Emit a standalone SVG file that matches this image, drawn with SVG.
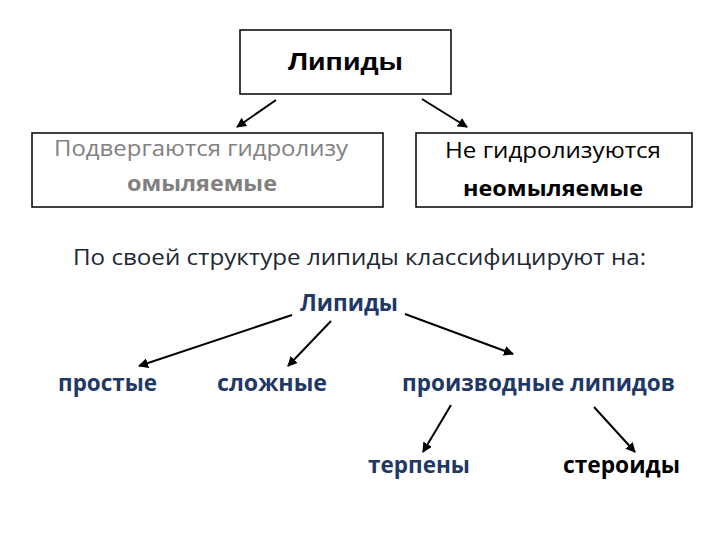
<svg xmlns="http://www.w3.org/2000/svg" width="720" height="540" viewBox="0 0 720 540">
<defs>
<style>
.box{fill:#fff;stroke:#000;stroke-width:1.5}
.os{font-family:"Open Sans","Noto Sans","DejaVu Sans",sans-serif}
.ar{font-family:"Liberation Sans",Arial,sans-serif}
.cal{font-family:"Open Sans","Noto Sans",sans-serif;font-weight:bold;font-size:24px;fill:#1f3864}
.ln{stroke:#000;stroke-width:2;fill:none;marker-end:url(#ah)}
</style>
<marker id="ah" viewBox="0 0 10 10" refX="9" refY="5" markerWidth="5" markerHeight="5" orient="auto" markerUnits="strokeWidth">
<path d="M0,0 L10,5 L0,10 z" fill="#000"/>
</marker>
</defs>
<rect width="720" height="540" fill="#fff"/>
<g id="lipids-top">
<rect class="box" x="240" y="30" width="211" height="64"/>
<text class="ar" x="345.5" y="70" text-anchor="middle" font-size="24" font-weight="bold" textLength="115" lengthAdjust="spacingAndGlyphs">Липиды</text>
</g>
<g id="saponifiable">
<rect class="box" x="32" y="133" width="351" height="74"/>
<text class="os" x="201" y="156" text-anchor="middle" font-size="22.5" fill="#808080" textLength="294" lengthAdjust="spacingAndGlyphs">Подвергаются гидролизу</text>
<text class="os" x="202" y="191" text-anchor="middle" font-size="22" font-weight="bold" fill="#808080" textLength="150" lengthAdjust="spacingAndGlyphs">омыляемые</text>
</g>
<g id="unsaponifiable">
<rect class="box" x="416" y="133" width="276" height="74"/>
<text class="os" x="553" y="158" text-anchor="middle" font-size="22.5" fill="#000" textLength="216" lengthAdjust="spacingAndGlyphs">Не гидролизуются</text>
<text class="os" x="553" y="196" text-anchor="middle" font-size="22" font-weight="bold" fill="#000" textLength="180" lengthAdjust="spacingAndGlyphs">неомыляемые</text>
</g>
<g id="caption">
<text class="os" x="73" y="265" font-size="22.5" fill="#1c2833" textLength="573" lengthAdjust="spacingAndGlyphs">По своей структуре липиды классифицируют на:</text>
</g>
<g id="lipids-2">
<text class="cal" x="300" y="311" textLength="98" lengthAdjust="spacingAndGlyphs">Липиды</text>
</g>
<g id="simple">
<text class="cal" x="58" y="391" textLength="99" lengthAdjust="spacingAndGlyphs">простые</text>
</g>
<g id="complex">
<text class="cal" x="217" y="391" textLength="110" lengthAdjust="spacingAndGlyphs">сложные</text>
</g>
<g id="derived">
<text class="cal" x="402" y="391" textLength="273" lengthAdjust="spacingAndGlyphs">производные липидов</text>
</g>
<g id="terpenes">
<text class="cal" x="368" y="473" textLength="102" lengthAdjust="spacingAndGlyphs">терпены</text>
</g>
<g id="steroids">
<text class="cal" x="563" y="473" style="fill:#000" textLength="117" lengthAdjust="spacingAndGlyphs">стероиды</text>
</g>
<g id="connectors">
<line class="ln" x1="276" y1="100" x2="237" y2="127"/>
<line class="ln" x1="422" y1="99" x2="467" y2="127"/>
<line class="ln" x1="292" y1="315" x2="139" y2="366"/>
<line class="ln" x1="331" y1="321" x2="288" y2="366"/>
<line class="ln" x1="405" y1="314" x2="513" y2="354"/>
<line class="ln" x1="451" y1="405" x2="423" y2="452"/>
<line class="ln" x1="594" y1="407" x2="635" y2="452"/>
</g>
</svg>
